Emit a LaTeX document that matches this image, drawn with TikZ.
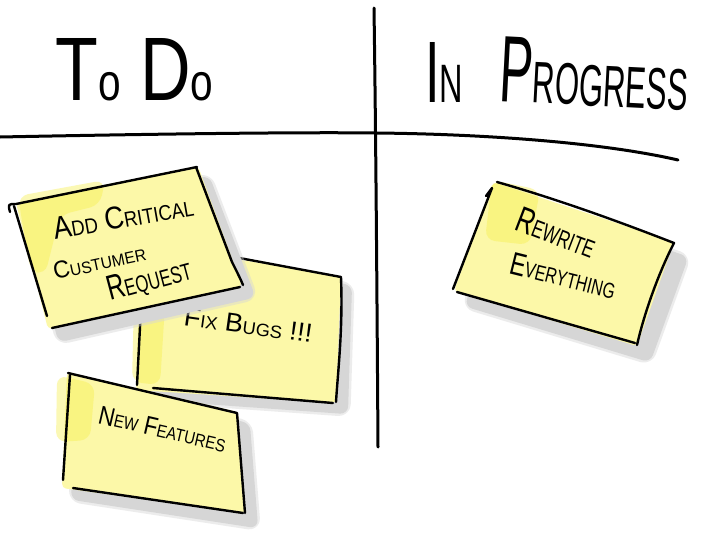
\documentclass[tikz,border=0pt]{standalone}
\usepackage{fontspec}
\setmainfont{Liberation Sans}
\usepackage{graphicx}
\definecolor{notey}{HTML}{FCF8A8}
\definecolor{notebright}{HTML}{F6EE48}
\definecolor{shadowc}{HTML}{D6D6D6}
\newcommand\bigsz{\fontsize{10}{12}\selectfont}
\newcommand\smsz{\fontsize{6.8}{8}\selectfont}
\newcommand\hsm{\fontsize{6.2}{7}\selectfont}
\newcommand\tsm{\fontsize{5.8}{7}\selectfont}
\newcommand\capw[2]{{\bigsz #1}{\smsz #2}}
\newcommand\hcapw[2]{{\bigsz #1}{\hsm #2}}
\tikzset{
  boardline/.style={line width=3pt, line cap=round},
  noteline/.style={line width=2.4pt, line cap=round, line join=round},
  notebody/.style={fill=notey, rounded corners=4pt},
  noteshadow/.style={fill=shadowc, draw=shadowc, line width=4pt, line join=round, rounded corners=6pt},
  shadowhalo/.style={draw=shadowc, opacity=.45, line width=9pt, line join=round, rounded corners=8pt},
  noteglow/.style={fill=notebright, opacity=.4, rounded corners=10pt},
  txt/.style={inner sep=0pt, anchor=base west}
}
\begin{document}
\begin{tikzpicture}[x=1pt,y=-1pt]
\fill[white] (0,0) rectangle (707,549);
\useasboundingbox (0,0) rectangle (707,549);

% board
\draw[boardline] (374,8) .. controls (376,150) and (377,300) .. (378,447);
\draw[boardline] (0,137) .. controls (150,134) and (300,132) .. (376,133) .. controls (480,134) and (600,142) .. (678,160);

% headings
\node[txt] (todo) at (55,100) {\resizebox{158pt}{62pt}{\bigsz T{\tsm o} D{\tsm o}}};
\node[txt] (in) at (425,102) {\resizebox{38pt}{60pt}{\hcapw{I}{N}}};
\node[txt, rotate=-3] (prog) at (498,101) {\resizebox{189pt}{65pt}{\hcapw{P}{ROGRESS}}};

% note 2: Fix Bugs
\path[shadowhalo] (153,250) -- (350,287) -- (346,412) -- (147,398) -- cycle;
\path[noteshadow] (153,250) -- (350,287) -- (346,412) -- (147,398) -- cycle;
\path[notebody] (141,244) -- (341,276) -- (336,403) -- (136,390) -- cycle;
\path[noteglow] (134,300) -- (165,305) -- (160,385) -- (132,382) -- cycle;
\draw[noteline] (143,240) -- (341,277) .. controls (343,330) and (338,370) .. (336,402);
\draw[noteline] (144,250) -- (137,385);
\draw[noteline] (153,388) -- (333,403);
\node[txt, rotate=-8] (fix) at (183,325) {\resizebox{129pt}{18pt}{\capw{F}{IX} \capw{B}{UGS} {\bigsz !!!}}};

% note 3: New Features
\path[shadowhalo] (80,385) -- (248,425) -- (256,526) -- (73,498) -- cycle;
\path[noteshadow] (80,385) -- (248,425) -- (256,526) -- (73,498) -- cycle;
\path[notebody] (67,372) -- (238,412) -- (245,513) -- (62,488) -- cycle;
\path[noteglow] (57,375) -- (95,384) -- (90,440) -- (56,442) -- cycle;
\draw[noteline] (68,373) -- (237,413) -- (245,513);
\draw[noteline] (70,375) -- (63,480);
\draw[noteline] (73,488) -- (243,513);
\node[txt, rotate=-13] (feat) at (97,423) {\resizebox{130pt}{18pt}{\capw{N}{EW} \capw{F}{EATURES}}};

% note 1: Add Critical Customer Request
\path[shadowhalo] (26,216) -- (208,178) -- (253,296) -- (60,340) -- cycle;
\path[noteshadow] (26,216) -- (208,178) -- (253,296) -- (60,340) -- cycle;
\path[notebody] (16,203) -- (198,166) -- (242,286) -- (48,329) -- cycle;
\path[noteglow] (18,196) -- (105,180) -- (100,205) -- (60,215) -- (45,275) -- (30,270) -- cycle;
\draw[noteline] (10,212) .. controls (8,204) .. (16,204) -- (197,167);
\draw[noteline] (196,167) -- (232,262) .. controls (238,274) and (241,280) .. (243,285);
\draw[noteline] (14,206) -- (47,316);
\draw[noteline] (52,328) -- (240,287);
\node[txt, rotate=10] (add) at (55,240) {\resizebox{142pt}{22pt}{\capw{A}{DD} \capw{C}{RITICAL}}};
\node[txt, rotate=12] (cust) at (55,280) {\resizebox{94pt}{17pt}{\capw{C}{USTUMER}}};
\node[txt, rotate=15] (req) at (110,301) {\resizebox{86pt}{24pt}{\capw{R}{EQUEST}}};

% note 4: Rewrite Everything
\path[shadowhalo] (506,197) -- (686,258) -- (649,360) -- (467,305) -- cycle;
\path[noteshadow] (506,197) -- (686,258) -- (649,360) -- (467,305) -- cycle;
\path[notebody] (493,182) -- (674,242) -- (637,346) -- (454,291) -- cycle;
\path[noteglow] (492,180) -- (540,190) -- (530,245) -- (485,240) -- cycle;
\draw[noteline] (497,182) .. controls (560,200) and (620,222) .. (674,243) .. controls (660,270) and (645,310) .. (637,345);
\draw[noteline] (486,196) -- (492,188) -- (453,289);
\draw[noteline] (457,292) -- (635,343);
\node[txt, rotate=-21] (rew) at (513,229) {\resizebox{83pt}{25pt}{\capw{R}{EWRITE}}};
\node[txt, rotate=-14] (every) at (508,273) {\resizebox{108pt}{22pt}{\capw{E}{VERYTHING}}};
\end{tikzpicture}
\end{document}
